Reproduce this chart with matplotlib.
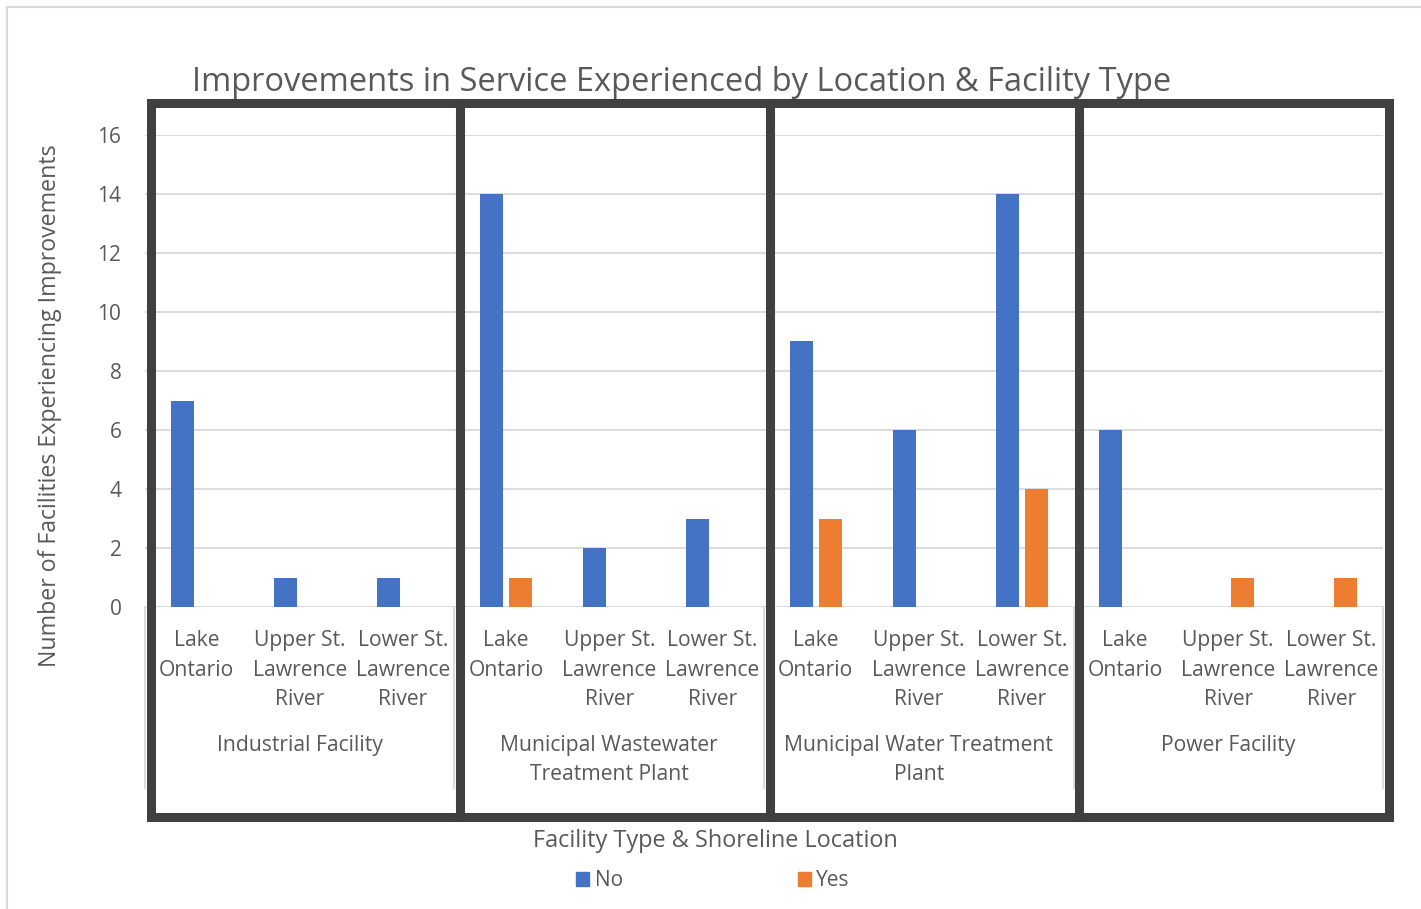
import matplotlib
matplotlib.use("Agg")
import matplotlib.pyplot as plt
import numpy as np
from matplotlib.lines import Line2D
from matplotlib.patches import Patch, Rectangle
from matplotlib.transforms import blended_transform_factory

W, H = 1421, 909

# -- data ---------------------------------------------------------------------
locations = ["Lake\nOntario", "Upper St.\nLawrence\nRiver", "Lower St.\nLawrence\nRiver"]
facility_types = ["Industrial Facility", "Municipal Wastewater\nTreatment Plant",
                  "Municipal Water Treatment\nPlant", "Power Facility"]
no_counts = [7, 1, 1, 14, 2, 3, 9, 6, 14, 6, 0, 0]
yes_counts = [0, 0, 0, 1, 0, 0, 3, 0, 4, 0, 1, 1]
series_names = ["No", "Yes"]
yticks = [0, 2, 4, 6, 8, 10, 12, 14, 16]

BLUE, ORANGE = "#4472C4", "#ED7D31"
TEXT, GRID, BOX = "#595959", "#D9D9D9", "#404040"


def fx(px):
    return px / W


def fy(py):
    return 1 - py / H


plt.rcParams["font.family"] = ["Open Sans", "DejaVu Sans"]
fig = plt.figure(figsize=(W / 100, H / 100), dpi=100)
ax = fig.add_axes([fx(145), fy(607), fx(1383) - fx(145), fy(135) - fy(607)])

x = np.arange(len(no_counts))
bw, off = 0.223, 0.14
ax.bar(x - off, no_counts, bw, color=BLUE, label=series_names[0], zorder=2)
ax.bar(x + off, yes_counts, bw, color=ORANGE, label=series_names[1], zorder=2)
ax.set_xlim(-0.5, len(x) - 0.5)
ax.set_ylim(0, 16)
ax.set_yticks(yticks)
ax.set_xticks([])
ax.grid(axis="y", color=GRID, lw=1.3)
ax.set_axisbelow(True)
for s in ax.spines.values():
    s.set_visible(False)
ax.tick_params(axis="y", length=0, pad=17, labelsize=15, labelcolor=TEXT)

trans = blended_transform_factory(ax.transData, fig.transFigure)

# category labels (two-level axis)
n_loc = len(locations)
for i in x:
    for j, line in enumerate(locations[i % n_loc].split("\n")):
        ax.text(i, fy(646 + 29.5 * j), line, transform=trans, ha="center",
                va="baseline", fontsize=15.2, color=TEXT, clip_on=False)
for g, name in enumerate(facility_types):
    for j, line in enumerate(name.split("\n")):
        ax.text(g * n_loc + 1, fy(751 + 29.5 * j), line, transform=trans, ha="center",
                va="baseline", fontsize=15.2, color=TEXT, clip_on=False)

# light separators below the axis
for b in np.arange(len(facility_types) + 1) * n_loc - 0.5:
    ax.add_line(Line2D([b, b], [fy(607), fy(788)], transform=trans, color=GRID,
                       lw=1.3, clip_on=False))

# heavy boxes round each facility type
for g in range(len(facility_types)):
    ax.add_patch(Rectangle((g * n_loc - 0.5 + 0.055, fy(817)), n_loc, fy(103) - fy(817),
                           transform=trans, fill=False, ec=BOX, lw=6.5,
                           joinstyle="miter", clip_on=False, zorder=5))

# outer chart border (left and top visible)
fig.add_artist(Line2D([fx(7), fx(7)], [fy(7), 0], transform=fig.transFigure, color=GRID, lw=1.5))
fig.add_artist(Line2D([fx(7), 1], [fy(7), fy(7)], transform=fig.transFigure, color=GRID, lw=1.5))

fig.text(fx(682), fy(91), "Improvements in Service Experienced by Location & Facility Type",
         ha="center", va="baseline", fontsize=23.5, color=TEXT)
fig.text(fx(50), fy(406), "Number of Facilities Experiencing Improvements", rotation=90,
         ha="center", va="center", fontsize=16.7, color=TEXT)
fig.text(fx(715), fy(847), "Facility Type & Shoreline Location",
         ha="center", va="baseline", fontsize=16.9, color=TEXT)

handles = [Patch(color=BLUE, label=series_names[0]), Patch(color=ORANGE, label=series_names[1])]
fig.legend(handles=handles, ncol=2, loc="center", bbox_to_anchor=(fx(713), fy(881)),
           frameon=False, fontsize=15, handlelength=0.63, handleheight=0.63,
           handletextpad=0.25, columnspacing=8.4, labelcolor=TEXT)

fig.savefig("out.png", dpi=100)
